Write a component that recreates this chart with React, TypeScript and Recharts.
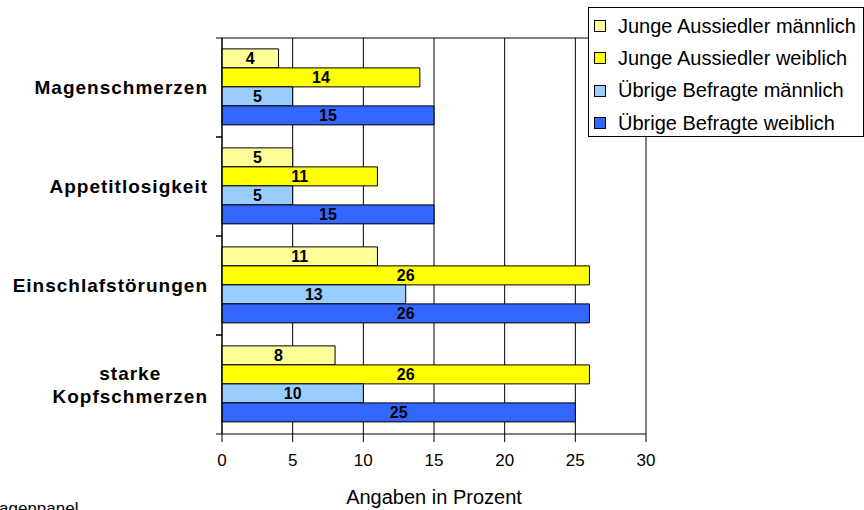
import { BarChart, Bar, XAxis, YAxis, CartesianGrid, LabelList } from 'recharts'

const categories = ['Magenschmerzen', 'Appetitlosigkeit', 'Einschlafstörungen', 'starke Kopfschmerzen']
const aussiedlerMaennlich = [4, 5, 11, 8]
const aussiedlerWeiblich = [14, 11, 26, 26]
const uebrigeMaennlich = [5, 5, 13, 10]
const uebrigeWeiblich = [15, 15, 26, 25]
const xTicks = [0, 5, 10, 15, 20, 25, 30]

const series = [
  { key: 'am', name: 'Junge Aussiedler männlich', color: '#FFFF99', values: aussiedlerMaennlich },
  { key: 'aw', name: 'Junge Aussiedler weiblich', color: '#FFFF00', values: aussiedlerWeiblich },
  { key: 'um', name: 'Übrige Befragte männlich', color: '#99CCFF', values: uebrigeMaennlich },
  { key: 'uw', name: 'Übrige Befragte weiblich', color: '#3366FF', values: uebrigeWeiblich },
]

const data = categories.map((name, i) => {
  const row: Record<string, string | number> = { name }
  series.forEach((s) => (row[s.key] = s.values[i]))
  return row
})

const FONT = '"Liberation Sans", Arial, sans-serif'
const CHART_W = 864
const CHART_H = 510
const MARGIN = { top: 38, right: 218, left: 0, bottom: 0 }
const Y_AXIS_W = 222
const PLOT_W = CHART_W - MARGIN.right - MARGIN.left - Y_AXIS_W

// long names go on two lines, split at the first space
function splitLabel(v: string) {
  if (v.length <= 18) return [v]
  const i = v.indexOf(' ')
  return [v.slice(0, i), v.slice(i + 1)]
}

function CategoryTick(props: any) {
  const { x, y, payload } = props
  const half = payload.offset ?? 0
  const lines = splitLabel(String(payload.value))
  const first = payload.value === categories[0]
  return (
    <g>
      {/* top of the first band doubles as the plot's top border */}
      <line x1={x - 6} x2={first ? x + PLOT_W : x} y1={y - half} y2={y - half} stroke="#000" strokeWidth={1} />
      <line x1={x - 6} x2={x} y1={y + half} y2={y + half} stroke="#000" />
      <foreignObject x={x - 222} y={y - 30} width={208} height={60}>
        <div
          style={{
            width: 208,
            height: 60,
            display: 'flex',
            alignItems: 'center',
            justifyContent: 'flex-end',
          }}
        >
          <div
            style={{
              textAlign: 'center',
              fontFamily: FONT,
              fontWeight: 'bold',
              fontSize: 19,
              letterSpacing: 1,
              lineHeight: '23px',
              color: '#000',
              whiteSpace: 'nowrap',
            }}
          >
            {lines.map((l, i) => (
              <div key={i}>{l}</div>
            ))}
          </div>
        </div>
      </foreignObject>
    </g>
  )
}

export default function App() {
  return (
    <div style={{ position: 'absolute', left: 0, top: 0, width: CHART_W, height: CHART_H, overflow: 'hidden', background: '#fff' }}>
      <BarChart
        width={CHART_W}
        height={CHART_H}
        data={data}
        layout="vertical"
        margin={MARGIN}
        barCategoryGap="11%"
        barGap={0}
      >
        <CartesianGrid horizontal={false} stroke="#000" strokeOpacity={1} />
        <XAxis
          type="number"
          domain={[0, 30]}
          ticks={xTicks}
          interval={0}
          height={76}
          tickSize={8}
          tickMargin={12}
          axisLine={{ stroke: '#000' }}
          tickLine={{ stroke: '#000' }}
          tick={{ fill: '#000', fontSize: 17, fontFamily: FONT }}
          label={{
            value: 'Angaben in Prozent',
            position: 'insideBottom',
            offset: 6,
            style: { fill: '#000', fontSize: 20, fontFamily: FONT },
          }}
        />
        <YAxis
          type="category"
          dataKey="name"
          width={Y_AXIS_W}
          tickSize={0}
          tickMargin={0}
          axisLine={{ stroke: '#000' }}
          tickLine={false}
          interval={0}
          tick={<CategoryTick />}
        />
        {series.map((s) => (
          <Bar key={s.key} dataKey={s.key} name={s.name} fill={s.color} stroke="#000" strokeWidth={1} isAnimationActive={false}>
            <LabelList
              dataKey={s.key}
              position="center"
              style={{ fill: '#000', fontWeight: 'bold', fontSize: 16, fontFamily: FONT }}
            />
          </Bar>
        ))}
      </BarChart>
      <div
        style={{
          position: 'absolute',
          left: 588,
          top: 7,
          width: 276,
          height: 130,
          boxSizing: 'border-box',
          border: '1px solid #000',
          background: '#fff',
          paddingTop: 2,
        }}
      >
        {series.map((s) => (
          <div key={s.key} style={{ display: 'flex', alignItems: 'center', height: 32.3 }}>
            <span
              style={{
                display: 'inline-block',
                width: 10,
                height: 10,
                marginLeft: 5,
                marginRight: 12,
                background: s.color,
                border: '1px solid #000',
              }}
            />
            <span style={{ fontFamily: FONT, fontSize: 20, color: '#000', whiteSpace: 'nowrap' }}>{s.name}</span>
          </div>
        ))}
      </div>
      <div
        style={{
          position: 'absolute',
          left: -17,
          top: 500,
          fontFamily: FONT,
          fontSize: 17,
          lineHeight: 1,
          color: '#000',
        }}
      >
        Fragenpanel
      </div>
    </div>
  )
}
